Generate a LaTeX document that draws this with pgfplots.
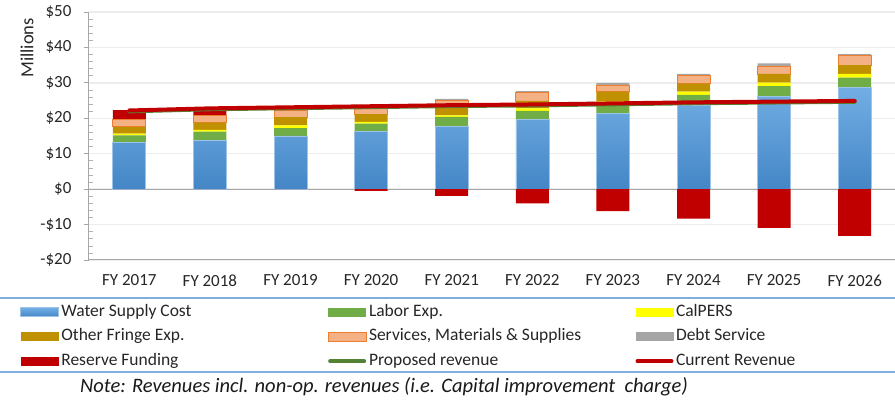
\documentclass[border=0pt]{standalone}
\usepackage{fontspec}
\setmainfont{Carlito}
\usepackage{pgfplots}
\pgfplotsset{compat=1.18}
\usepackage{pgfplotstable}

\definecolor{cWaterTop}{HTML}{72AEE4}
\definecolor{cWaterBot}{HTML}{4486C6}
\definecolor{cWater}{HTML}{5B9BD5}
\definecolor{cWaterEdge}{HTML}{9DC3E6}
\definecolor{cLabor}{HTML}{70AD47}
\definecolor{cCal}{HTML}{FFFF00}
\definecolor{cFringe}{HTML}{BF9000}
\definecolor{cSMS}{HTML}{F4B183}
\definecolor{cSMSedge}{HTML}{ED7D31}
\definecolor{cDebt}{HTML}{A5A5A5}
\definecolor{cRes}{HTML}{C00000}
\definecolor{cProp}{HTML}{548235}
\definecolor{cLegLine}{HTML}{7FAEDF}

\pgfplotstableread{
x water labor calpers fringe sms debt respos resneg rev
0 13.1 2.1 0.5 1.9 2.1 0.0 2.6 0.0 22.2
1 13.8 2.4 0.5 2.1 1.9 0.0 1.7 0.0 22.8
2 15.0 2.2 0.8 2.3 2.0 0.3 0.4 0.0 23.1
3 16.2 2.3 0.5 2.2 1.6 0.4 0.0 -0.5 23.4
4 17.8 2.6 0.4 2.9 1.4 0.4 0.0 -1.9 23.7
5 19.7 2.4 0.7 2.1 2.4 0.4 0.0 -4.0 23.9
6 21.4 2.6 0.8 2.7 1.9 0.6 0.0 -6.2 24.2
7 23.8 2.8 0.9 2.3 2.2 0.5 0.0 -8.3 24.5
8 26.1 3.0 1.0 2.4 2.3 0.7 0.0 -10.9 24.7
9 28.7 2.8 1.0 2.5 2.7 0.4 0.0 -13.2 24.9
}\data

\pgfplotsset{
  barleg/.style={legend image code/.code={\fill[##1] (0pt,-4.5pt) rectangle (38pt,4.5pt);}},
  lineleg/.style={legend image code/.code={\draw[##1, line width=4pt, line cap=round] (2pt,0pt) -- (36pt,0pt);}},
}

\begin{document}
\begin{tikzpicture}
\path[use as bounding box] (0pt,0pt) rectangle (895pt,-401pt);
\begin{axis}[
  at={(89pt,-12pt)}, anchor=north west,
  scale only axis, width=806pt, height=248pt,
  ybar stacked, bar width=33pt,
  xmin=-0.5, xmax=9.5, ymin=-20, ymax=50,
  xtick=data,
  xticklabels={FY 2017,FY 2018,FY 2019,FY 2020,FY 2021,FY 2022,FY 2023,FY 2024,FY 2025,FY 2026},
  axis x line*=bottom, x axis line style={draw=none},
  xtick style={draw=none},
  xticklabel style={yshift=-6pt},
  axis y line*=left, y axis line style={draw=black!35, line width=1pt},
  ytick={-20,-10,0,10,20,30,40,50},
  yticklabels={-\$20,-\$10,\$0,\$10,\$20,\$30,\$40,\$50},
  minor y tick num=4,
  tick align=outside,
  major tick length=5pt, minor tick length=4pt,
  ytick style={draw=black!35, line width=0.8pt},
  minor y tick style={draw=black!30, line width=0.6pt, xshift=4pt},
  yticklabel style={xshift=-9pt},
  ymajorgrids, major grid style={draw=black!7, line width=1.3pt},
  extra y ticks={-20,0},
  extra y tick labels={},
  extra y tick style={grid=major, major grid style={draw=black!35, line width=1pt}, tick style={draw=none}},
  tick label style={font=\fontsize{17}{19}\selectfont, text=black!85},
  ylabel={Millions},
  ylabel style={at={(axis description cs:-0.077,0.855)}, anchor=center, font=\fontsize{18.5}{20}\selectfont, text=black!85},
  legend columns=3,
  legend cell align=left,
  legend style={at={(axis description cs:-0.0856,-0.1683)}, anchor=north west, draw=none, fill=none,
    inner sep=0pt, font=\fontsize{17.5}{19}\selectfont, row sep=4pt,
    nodes={text height=12pt, text depth=3.5pt, inner sep=2.5pt, text=black!85}},
]
\addplot[barleg, top color=cWaterTop, bottom color=cWaterBot, draw=cWaterEdge, line width=0.6pt] table[x=x,y=water]{\data};
\addlegendentry{\makebox[264pt][l]{Water Supply Cost}}
\addplot[barleg, fill=cLabor, draw=none] table[x=x,y=labor]{\data};
\addlegendentry{\makebox[264pt][l]{Labor Exp.}}
\addplot[barleg, fill=cCal, draw=none] table[x=x,y=calpers]{\data};
\addlegendentry{CalPERS}
\addplot[barleg, fill=cFringe, draw=none] table[x=x,y=fringe]{\data};
\addlegendentry{Other Fringe Exp.}
\addplot[barleg, fill=cSMS, draw=cSMSedge, line width=0.7pt] table[x=x,y=sms]{\data};
\addlegendentry{Services, Materials \& Supplies}
\addplot[barleg, fill=cDebt, draw=none] table[x=x,y=debt]{\data};
\addlegendentry{Debt Service}
\addplot[barleg, fill=cRes, draw=none] table[x=x,y=respos]{\data};
\addlegendentry{Reserve Funding}
\addlegendimage{lineleg, cProp}
\addlegendentry{Proposed revenue}
\addlegendimage{lineleg, cRes}
\addlegendentry{Current Revenue}
\end{axis}
\begin{axis}[
  at={(89pt,-12pt)}, anchor=north west,
  scale only axis, width=806pt, height=248pt,
  xmin=-0.5, xmax=9.5, ymin=-20, ymax=50,
  hide axis,
]
\addplot[ybar, bar width=33pt, fill=cRes, draw=none] table[x=x,y=resneg]{\data};
\addplot[sharp plot, no marks, cProp, line width=4pt, line cap=round] table[x=x,y expr=\thisrow{rev}-0.25]{\data};
\addplot[sharp plot, no marks, cRes, line width=4pt, line cap=round] table[x=x,y=rev]{\data};
\end{axis}
\draw[cLegLine, line width=1.6pt] (0pt,-298pt) -- (895pt,-298pt);
\draw[cLegLine, line width=1.6pt] (0pt,-372pt) -- (895pt,-372pt);
\node[font=\itshape\fontsize{20.5}{22}\selectfont, text=black!90] at (384pt,-386.5pt) {Note: Revenues incl. non-op. revenues (i.e. Capital improvement\ \ charge)};
\end{tikzpicture}
\end{document}
